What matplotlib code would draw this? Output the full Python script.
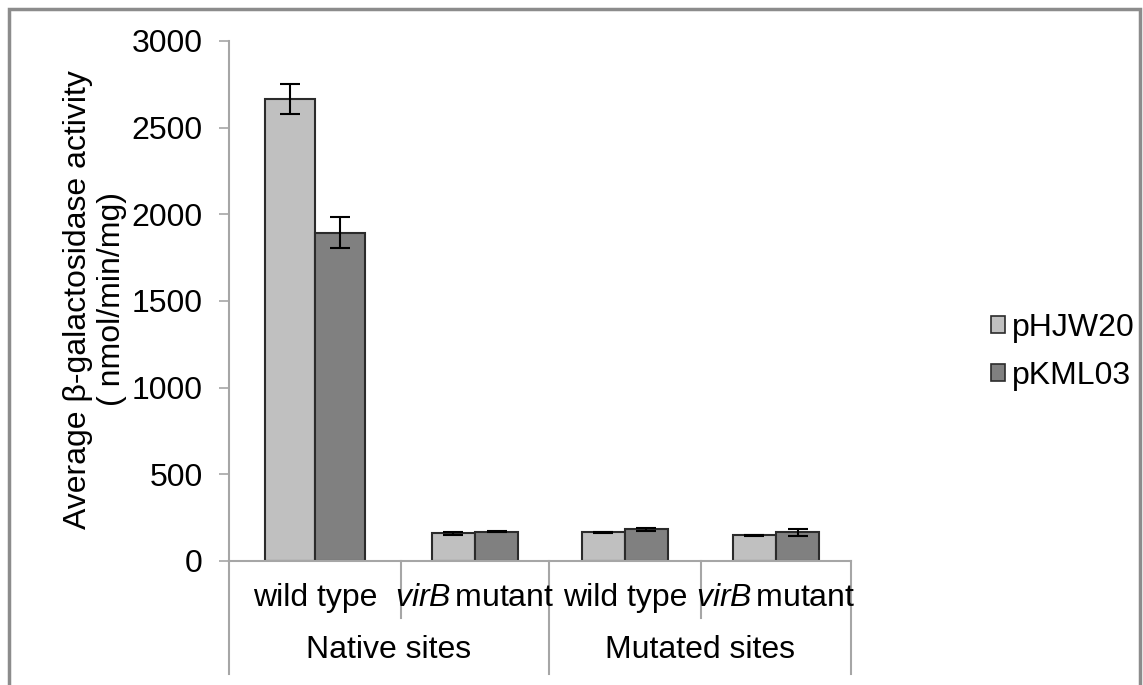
import numpy as np
import matplotlib
matplotlib.use("Agg")
import matplotlib.pyplot as plt
from matplotlib.patches import Rectangle, Patch
import matplotlib.transforms as mtransforms

plt.rcParams["font.family"] = ["Liberation Sans", "DejaVu Sans"]
plt.rcParams["mathtext.fontset"] = "custom"
plt.rcParams["mathtext.it"] = "Liberation Sans:italic"
plt.rcParams["mathtext.rm"] = "Liberation Sans"

# data
groups = ["Native sites", "Mutated sites"]
strains = ["wild type", r"$\it{virB}\,$mutant", "wild type", r"$\it{virB}\,$mutant"]
series = ["pHJW20", "pKML03"]
phjw20 = [2665, 160, 165, 148]
phjw20_err = [85, 8, 5, 4]
pkml03 = [1895, 168, 183, 165]
pkml03_err = [90, 3, 8, 18]

# layout (units ~150 px, reference has a wider first category)
cat_edges = [0, 1.147, 2.133, 3.147, 4.147]
centers = [0.573, 1.64, 2.64, 3.647]
bar_w = [0.333, 0.287, 0.287, 0.287]

c_light = "#c0c0c0"
c_dark = "#808080"
edge = "#2b2b2b"
axis_grey = "#a6a6a6"
fs = 23

fig = plt.figure(figsize=(11.43, 6.85), dpi=100)
ax = fig.add_axes([229 / 1143, 1 - 561 / 685, 622 / 1143, 520 / 685])

x = np.array(centers)
w = np.array(bar_w)
ax.bar(x - w / 2, phjw20, w, color=c_light, edgecolor=edge, linewidth=1.5)
ax.bar(x + w / 2, pkml03, w, color=c_dark, edgecolor=edge, linewidth=1.5)
ax.errorbar(x - w / 2, phjw20, yerr=phjw20_err, fmt="none", ecolor="black",
            elinewidth=1.5, capsize=7, capthick=1.5)
ax.errorbar(x + w / 2, pkml03, yerr=pkml03_err, fmt="none", ecolor="black",
            elinewidth=1.5, capsize=7, capthick=1.5)

ax.set_xlim(0, cat_edges[-1])
ax.set_ylim(0, 3000)
ax.set_yticks(np.arange(0, 3001, 500))
ax.set_xticks([])
ax.tick_params(axis="y", direction="out", length=7, width=1.2, color=axis_grey,
               labelsize=fs, pad=12)
for s in ["top", "right"]:
    ax.spines[s].set_visible(False)
for s in ["left", "bottom"]:
    ax.spines[s].set_color(axis_grey)
    ax.spines[s].set_linewidth(1.5)

# category axis
trans = mtransforms.blended_transform_factory(ax.transData, ax.transAxes)
for i, e in enumerate(cat_edges):
    low = -0.217 if i in (0, 2, 4) else -0.11
    ax.plot([e, e], [0, low], transform=trans, color=axis_grey, lw=1.5,
            clip_on=False)
for c, lab in zip(centers, strains):
    ax.text(c, -0.072, lab, transform=trans, ha="center", va="center",
            fontsize=fs)
for g, lab in enumerate(groups):
    mid = (cat_edges[2 * g] + cat_edges[2 * g + 2]) / 2
    ax.text(mid, -0.172, lab, transform=trans, ha="center", va="center",
            fontsize=fs)

fig.text(95 / 1143, 0.563,
         "Average \u03b2-galactosidase activity\n( nmol/min/mg)",
         rotation=90, ha="center", va="center", fontsize=fs,
         multialignment="center", linespacing=1.2)

handles = [Patch(facecolor=c_light, edgecolor=edge, linewidth=1.2),
           Patch(facecolor=c_dark, edgecolor=edge, linewidth=1.2)]
fig.legend(handles, series, loc="center left",
           bbox_to_anchor=(962 / 1143, 1 - 352 / 685), frameon=False,
           fontsize=fs, handlelength=0.45, handleheight=0.45, handletextpad=0.2,
           labelspacing=0.55)

# outer frame
fig.patches.append(Rectangle((9 / 1143, -0.05), 1131 / 1143, 1 - 9 / 685 + 0.05,
                             transform=fig.transFigure, fill=False,
                             edgecolor="#8c8c8c", linewidth=2.5))

fig.savefig("out.png", dpi=100)
